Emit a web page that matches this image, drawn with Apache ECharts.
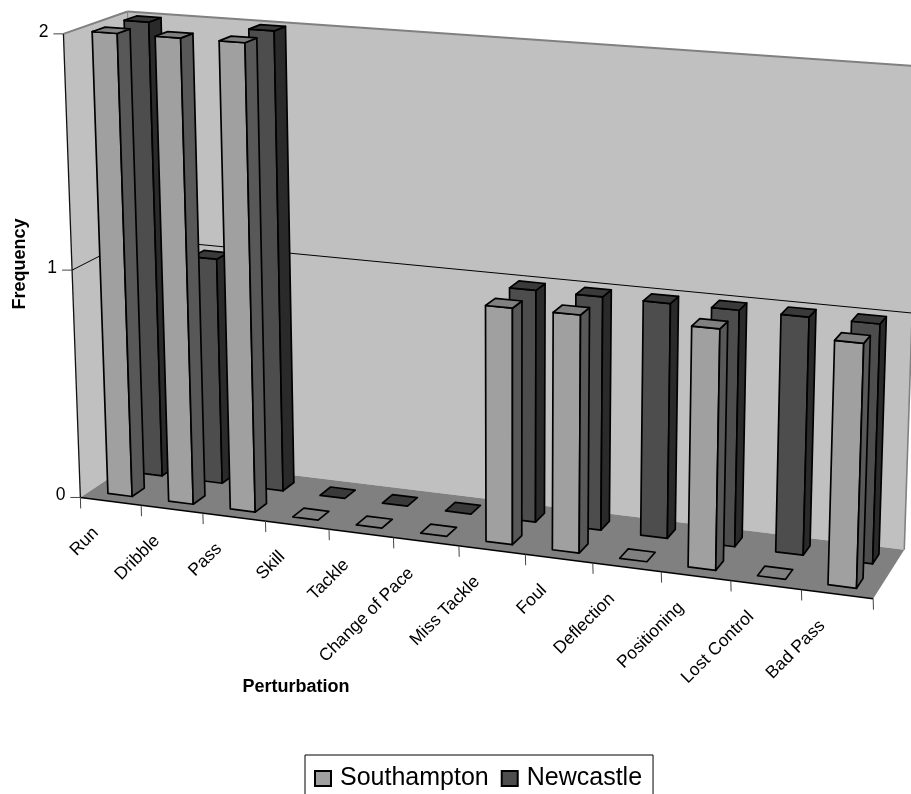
<!DOCTYPE html>
<html><head><meta charset="utf-8">
<style>html,body{margin:0;padding:0;background:#fff}#c{width:911px;height:794px}</style>
<script src="https://cdn.jsdelivr.net/npm/echarts@6/dist/echarts.min.js"></script>
</head><body><div id="c"></div>
<script>
var categories=['Run','Dribble','Pass','Skill','Tackle','Change of Pace','Miss Tackle','Foul','Deflection','Positioning','Lost Control','Bad Pass'];
var southampton=[2,2,2,0,0,0,1,1,0,1,0,1];
var newcastle=[2,1,2,0,0,0,1,1,1,1,1,1];
var valueTicks=[0,1,2];

var FONT='"Liberation Sans",Arial,sans-serif';
// camera calibration: box corner (category, value, depth) -> screen
var calib=[[0,0,0,81,498],[12,0,0,873,598],[12,0,1,903,551],[0,0,1,141,456],[0,2,0,63,33],[0,2,1,128,12],[12,2,1,919,67],[0,1,0,72,271],[0,1,1,134.5,238],[12,1,1,915,312]];
function solve(){
  var A=[],b=[];
  calib.forEach(function(c){var X=c[0],Y=c[1],Z=c[2],u=c[3],v=c[4];
    A.push([X,Y,Z,1,0,0,0,0,-u*X,-u*Y,-u*Z]);b.push(u);
    A.push([0,0,0,0,X,Y,Z,1,-v*X,-v*Y,-v*Z]);b.push(v);});
  var n=11,M=[];
  for(var i=0;i<n;i++){M[i]=[];for(var j=0;j<=n;j++){var s=0;for(var k=0;k<A.length;k++){s+=A[k][i]*(j<n?A[k][j]:b[k]);}M[i][j]=s;}}
  for(i=0;i<n;i++){var p=i;for(k=i+1;k<n;k++)if(Math.abs(M[k][i])>Math.abs(M[p][i]))p=k;
    var t=M[i];M[i]=M[p];M[p]=t;
    for(k=0;k<n;k++){if(k===i)continue;var f=M[k][i]/M[i][i];for(j=i;j<=n;j++)M[k][j]-=f*M[i][j];}}
  return M.map(function(r,i){return r[n]/r[i];});
}
var P=solve();
function proj(X,Y,Z){var w=P[8]*X+P[9]*Y+P[10]*Z+1;
  return [(P[0]*X+P[1]*Y+P[2]*Z+P[3])/w,(P[4]*X+P[5]*Y+P[6]*Z+P[7])/w];}

// hidden grid supplies the category and value scales; its pixels are re-read as box coordinates
var nCat=categories.length,maxVal=2;
function toBox(params,api,i,v){var r=params.coordSys,c=api.coord([i,v]);
  return {x:(c[0]-r.x)/r.width*nCat,y:(r.y+r.height-c[1])/r.height*maxVal};}

function poly(pts,fill,stroke,lw){return {type:'polygon',shape:{points:pts},style:{fill:fill,stroke:stroke||'none',lineWidth:lw||0,lineJoin:'round'},silent:true};}
function line(a,b,stroke,lw){return {type:'line',shape:{x1:a[0],y1:a[1],x2:b[0],y2:b[1]},style:{stroke:stroke,lineWidth:lw||1},silent:true};}

function barRenderer(z0,z1,front,side,top){return function(params,api){
  var i=api.value(0),v=api.value(1),b=toBox(params,api,i,v),h=0.2;
  var x0=b.x-h,x1=b.x+h,y=b.y,kids=[];
  var S=1.7,K='#000';
  if(y>0){
    kids.push(poly([proj(x0,0,z0),proj(x1,0,z0),proj(x1,y,z0),proj(x0,y,z0)],front,K,S));
    kids.push(poly([proj(x1,0,z0),proj(x1,0,z1),proj(x1,y,z1),proj(x1,y,z0)],side,K,S));
  }
  kids.push(poly([proj(x0,y,z0),proj(x1,y,z0),proj(x1,y,z1),proj(x0,y,z1)],top,K,S));
  return {type:'group',children:kids};
};}

function boxRender(){ // walls and floor
  var kids=[];
  var a=proj(0,0,0),b=proj(12,0,0),c=proj(12,0,1),d=proj(0,0,1),e=proj(0,2,0),f=proj(0,2,1),g=proj(12,2,1);
  kids.push(poly([a,d,f,e],'#c0c0c0'));
  kids.push(poly([d,c,g,f],'#c0c0c0'));
  kids.push(poly([a,b,c,d],'#808080'));
  kids.push(line(e,f,'#808080',2));kids.push(line(f,g,'#808080',2));kids.push(line(c,g,'#808080',1.6));kids.push(line(f,d,'#808080',1));
  kids.push(line(a,e,'#111',1.3));kids.push(line(a,b,'#000',1.5));
  return {type:'group',children:kids};
}
function valueAxisRender(params,api){
  var v=api.value(0),b=toBox(params,api,0,v).y;
  var p=proj(0,b,0),q=proj(0,b,1),kids=[];
  kids.push(line([p[0]-10,p[1]],p,'#444',1));
  if(b>0&&b<maxVal){kids.push(line(p,q,'#000',1));kids.push(line(q,proj(12,b,1),'#000',1));}
  kids.push({type:'text',x:p[0]-15,y:p[1]-2,silent:true,style:{text:String(v),font:'17.5px '+FONT,fill:'#000',align:'right',verticalAlign:'middle'}});
  return {type:'group',children:kids};
}
function catAxisRender(params,api){
  var i=api.value(0),b=toBox(params,api,i,0),kids=[];
  var p=proj(b.x-0.5,0,0);
  kids.push(line(p,[p[0]+0.3,p[1]+11],'#444',1));
  if(i===nCat-1){var q=proj(b.x+0.5,0,0);kids.push(line(q,[q[0]+0.3,q[1]+11],'#444',1));}
  var m=proj(b.x,0,0);
  kids.push({type:'text',x:m[0]-15,y:m[1]+29,rotation:Math.PI/4,silent:true,style:{text:categories[i],font:'17.5px '+FONT,fill:'#000',align:'right',verticalAlign:'middle'}});
  return {type:'group',children:kids};
}
function pairs(arr){return arr.map(function(v,i){return [i,v];});}

var chart=echarts.init(document.getElementById('c'),null,{renderer:'canvas'});
chart.setOption({
  animation:false,
  backgroundColor:'#fff',
  grid:{left:100,top:100,width:600,height:400,show:false},
  xAxis:{type:'category',data:categories,show:false},
  yAxis:{type:'value',min:0,max:maxVal,interval:1,show:false},
  legend:{left:305,top:755,orient:'horizontal',data:['Southampton','Newcastle'],
    backgroundColor:'#fff',borderColor:'#000',borderWidth:1,borderRadius:0,
    padding:[11,11,9,9],itemGap:12,itemWidth:16,itemHeight:15,icon:'rect',
    textStyle:{fontFamily:FONT,fontSize:25,color:'#000',padding:[0,0,0,4]},selectedMode:false},
  graphic:[
    {type:'text',x:20,y:264,rotation:Math.PI/2,silent:true,style:{text:'Frequency',font:'bold 18px '+FONT,fill:'#000',align:'center',verticalAlign:'middle'}},
    {type:'text',x:296,y:687,silent:true,style:{text:'Perturbation',font:'bold 18px '+FONT,fill:'#000',align:'center',verticalAlign:'middle'}}
  ],
  series:[
    {type:'custom',name:'box',coordinateSystem:'cartesian2d',clip:false,silent:true,data:[[0,0]],renderItem:boxRender,encode:{x:0,y:1}},
    {type:'custom',name:'valueAxis',coordinateSystem:'cartesian2d',clip:false,silent:true,data:valueTicks.map(function(v){return [v];}),renderItem:valueAxisRender,encode:{y:0}},
    {type:'custom',name:'Newcastle',coordinateSystem:'cartesian2d',clip:false,silent:true,data:pairs(newcastle),encode:{x:0,y:1},
      itemStyle:{color:'#4d4d4d',borderColor:'#000',borderWidth:1.5},
      renderItem:barRenderer(0.65,0.85,'#4d4d4d','#2a2a2a','#3a3a3a')},
    {type:'custom',name:'Southampton',coordinateSystem:'cartesian2d',clip:false,silent:true,data:pairs(southampton),encode:{x:0,y:1},
      itemStyle:{color:'#a0a0a0',borderColor:'#000',borderWidth:1.5},
      renderItem:barRenderer(0.15,0.35,'#a0a0a0','#585858','#808080')},
    {type:'custom',name:'catAxis',coordinateSystem:'cartesian2d',clip:false,silent:true,data:categories.map(function(c,i){return [i];}),renderItem:catAxisRender,encode:{x:0}}
  ]
});
</script></body></html>
